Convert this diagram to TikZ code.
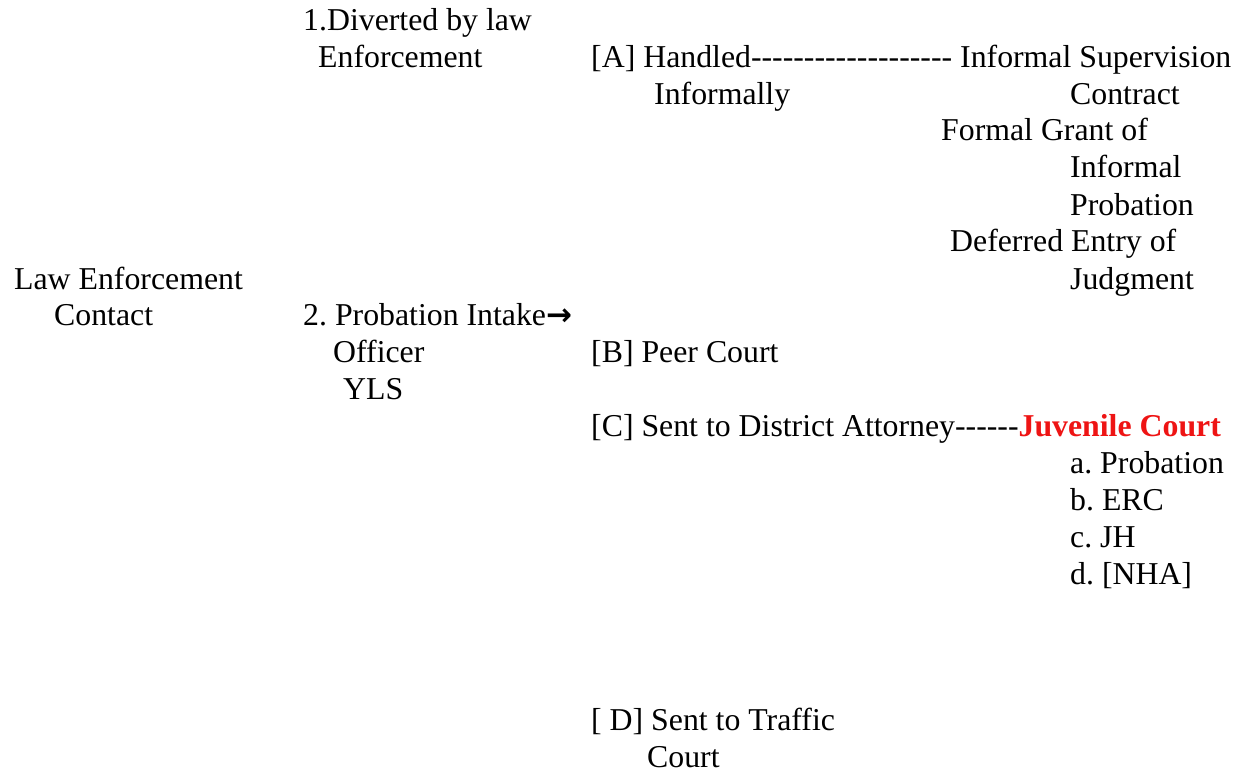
\documentclass[tikz,border=0pt]{standalone}
\usepackage{fontspec}
\setmainfont{Liberation Serif}
\newfontfamily\symfont{DejaVu Sans}
\definecolor{jred}{RGB}{238,20,20}
\frenchspacing
\begin{document}
\begin{tikzpicture}[x=1pt,y=-1pt,
  txt/.style={anchor=base west,inner sep=0pt,font=\fontsize{31.8}{37}\selectfont}]
\useasboundingbox (0,0) rectangle (1248,772);
\node[txt] (d1a) at (303,30) {1.Diverted by law};
\node[txt] (d1b) at (318,67) {Enforcement};
\node[txt] (aa) at (591,67) {[A] Handled-{}-{}-{}-{}-{}-{}-{}-{}-{}-{}-{}-{}-{}-{}-{}-{}-{}-{}-{} Informal Supervision};
\node[txt] (ab) at (654,104) {Informally};
\node[txt] (ac) at (1070,104) {Contract};
\node[txt] (fg1) at (941,140) {Formal Grant of};
\node[txt] (fg2) at (1070,177) {Informal};
\node[txt] (fg3) at (1070,215) {Probation};
\node[txt] (de1) at (950,251) {Deferred Entry of};
\node[txt] (de2) at (1070,289) {Judgment};
\node[txt] (le1) at (14,289) {Law Enforcement};
\node[txt] (le2) at (54,325) {Contact};
\node[txt] (pi1) at (303,325) {2. Probation Intake{\symfont\bfseries\fontsize{31}{34}\selectfont →}};
\node[txt] (pi2) at (333,362) {Officer};
\node[txt] (pi3) at (343,399) {YLS};
\node[txt] (b) at (591,362) {[B] Peer Court};
\node[txt] (c) at (591,436) {[C] Sent to District Attorney-{}-{}-{}-{}-{}-{}\textcolor{jred}{\bfseries Juvenile Court}};
\node[txt] (ca) at (1070,473) {a. Probation};
\node[txt] (cb) at (1070,510) {b. ERC};
\node[txt] (cc) at (1070,547) {c. JH};
\node[txt] (cd) at (1070,584) {d. [NHA]};
\node[txt] (d1) at (591,730) {[ D] Sent to Traffic};
\node[txt] (d2) at (647,767) {Court};
\end{tikzpicture}
\end{document}
